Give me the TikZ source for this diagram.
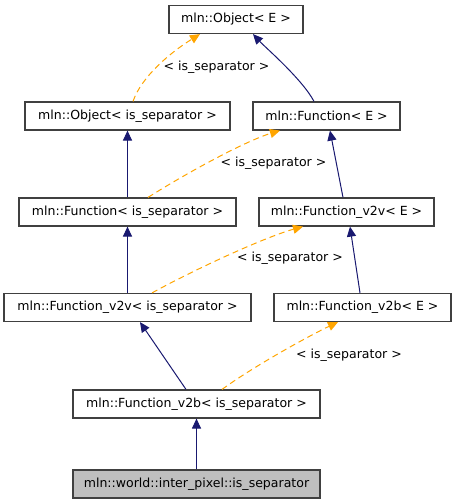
\documentclass[tikz,border=0pt]{standalone}
\usepackage{fontspec}
\setmainfont{DejaVu Sans}
\usetikzlibrary{arrows.meta,calc}
\definecolor{edgeblue}{RGB}{25,25,112}
\definecolor{edgeorange}{RGB}{255,165,0}
\definecolor{boxborder}{RGB}{64,64,64}
\definecolor{graybox}{RGB}{191,191,191}
\tikzset{
  cls/.style={draw=boxborder,fill=white,line width=0.9pt,inner sep=0pt,
    minimum height=21pt,font=\fontsize{9.4}{11}\selectfont},
  focus/.style={cls,fill=graybox},
  inherit/.style={draw=edgeblue,line width=0.75pt,
    -{Triangle[length=7.5pt,width=6.8pt,fill=edgeblue]}},
  templ/.style={draw=edgeorange,line width=0.75pt,dash pattern=on 4.5pt off 3pt,
    -{Triangle[length=7.5pt,width=6.8pt,fill=edgeorange]}},
  lbl/.style={font=\fontsize{9.4}{11}\selectfont,inner sep=0pt}
}
\begin{document}
\begin{tikzpicture}[x=0.75pt,y=-0.75pt]
\useasboundingbox (0,0) rectangle (456,504);
\node[cls,minimum width=100.5pt] (objE) at (236,19.5) {mln::Object< E >};
\node[cls,minimum width=153.75pt] (objS) at (127.5,116) {mln::Object< is\_separator >};
\node[cls,minimum width=110.25pt] (funE) at (326.5,116) {mln::Function< E >};
\node[cls,minimum width=162.75pt] (funS) at (127.5,212) {mln::Function< is\_separator >};
\node[cls,minimum width=131.25pt] (vvE) at (346.5,212) {mln::Function\_v2v< E >};
\node[cls,minimum width=185.25pt] (vvS) at (127.5,307.5) {mln::Function\_v2v< is\_separator >};
\node[cls,minimum width=132.75pt] (vbE) at (362.5,307.5) {mln::Function\_v2b< E >};
\node[cls,minimum width=185.25pt] (vbS) at (196.5,404) {mln::Function\_v2b< is\_separator >};
\node[focus,minimum width=185.25pt] (isS) at (196.5,484) {mln::world::inter\_pixel::is\_separator};

% solid inheritance
\draw[inherit] ($(funE.north)+(-12.5,0)$) .. controls ($(funE.north)+(-24,-22)$) and ($(objE.south)+(28,12)$) .. ($(objE.south)+(17,0)$);
\draw[inherit] (funS.north) -- (objS.south);
\draw[inherit] ($(vvE.north)+(-3.5,0)$) -- ($(funE.south)+(3.5,0)$);
\draw[inherit] (vvS.north) -- (funS.south);
\draw[inherit] ($(vbE.north)+(-2.5,0)$) -- ($(vvE.south)+(3.5,0)$);
\draw[inherit] ($(vbS.north)+(-10.5,0)$) -- ($(vvS.south)+(12.5,0)$);
\draw[inherit] (isS.north) -- (vbS.south);

% template instantiations
\draw[templ] ($(objS.north)+(5.5,0)$) .. controls ($(objS.north)+(14,-25)$) and ($(objE.south)+(-65,18)$) .. ($(objE.south)+(-36,0)$);
\draw[templ] ($(funS.north)+(20.5,0)$) .. controls ($(funS.north)+(60,-25)$) and ($(funE.south)+(-80,10)$) .. ($(funE.south)+(-46.5,0)$);
\draw[templ] ($(vvS.north)+(24.5,0)$) .. controls ($(vvS.north)+(70,-25)$) and ($(vvE.south)+(-80,10)$) .. ($(vvE.south)+(-43.5,0)$);
\draw[templ] ($(vbS.north)+(25.5,0)$) .. controls ($(vbS.north)+(60,-25)$) and ($(vbE.south)+(-50,12)$) .. ($(vbE.south)+(-24.5,0)$);

\node[lbl] (l1) at (216.5,67) {< is\_separator >};
\node[lbl] (l2) at (273.5,163) {< is\_separator >};
\node[lbl] (l3) at (290,258) {< is\_separator >};
\node[lbl] (l4) at (349,355) {< is\_separator >};
\end{tikzpicture}
\end{document}
